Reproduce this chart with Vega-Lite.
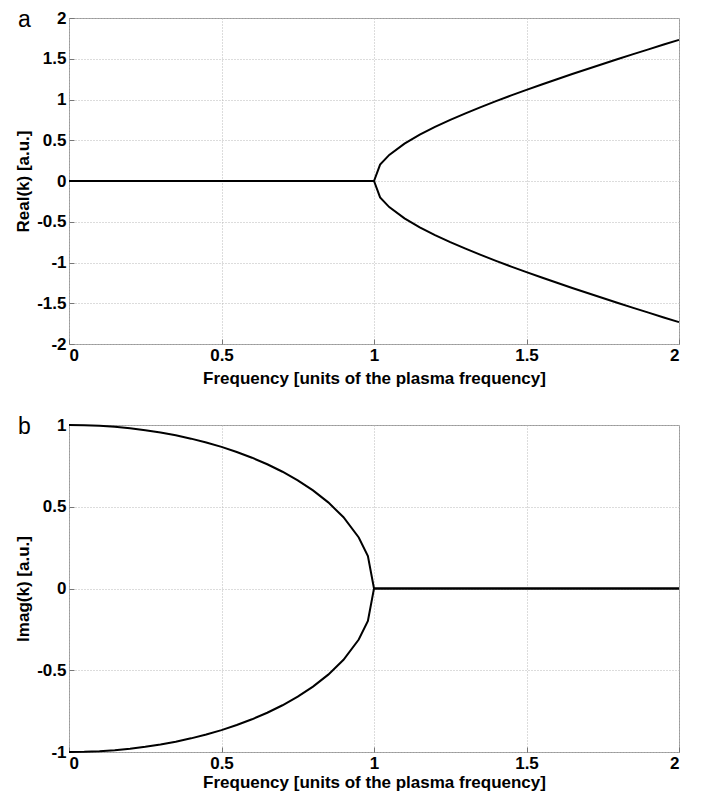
{
  "$schema": "https://vega.github.io/schema/vega-lite/v6.json",
  "padding": {"left": 14, "top": 8, "right": 5, "bottom": 0},
  "background": "white",
  "spacing": 28,
  "config": {
    "font": "Liberation Sans",
    "view": {"stroke": "#9a9a9a", "strokeWidth": 1},
    "axis": {
      "labelFont": "Liberation Sans",
      "labelFontSize": 17,
      "labelFontWeight": "bold",
      "labelColor": "black",
      "titleFont": "Liberation Sans",
      "titleFontSize": 17,
      "titleFontWeight": "bold",
      "titleColor": "black",
      "domain": false,
      "tickColor": "#777",
      "tickSize": -5,
      "grid": true,
      "gridColor": "#b8b8b8",
      "gridDash": [1, 2],
      "gridWidth": 1
    },
    "title": {"font": "Liberation Sans", "fontSize": 23, "fontWeight": "normal", "color": "black"}
  },
  "datasets": {
    "k": [
      {"f": 0, "ru": 0, "rd": 0, "iu": 1, "id": -1},
      {"f": 0.05, "ru": 0, "rd": 0, "iu": 0.9987, "id": -0.9987},
      {"f": 0.1, "ru": 0, "rd": 0, "iu": 0.995, "id": -0.995},
      {"f": 0.15, "ru": 0, "rd": 0, "iu": 0.9887, "id": -0.9887},
      {"f": 0.2, "ru": 0, "rd": 0, "iu": 0.9798, "id": -0.9798},
      {"f": 0.25, "ru": 0, "rd": 0, "iu": 0.9682, "id": -0.9682},
      {"f": 0.3, "ru": 0, "rd": 0, "iu": 0.9539, "id": -0.9539},
      {"f": 0.35, "ru": 0, "rd": 0, "iu": 0.9367, "id": -0.9367},
      {"f": 0.4, "ru": 0, "rd": 0, "iu": 0.9165, "id": -0.9165},
      {"f": 0.45, "ru": 0, "rd": 0, "iu": 0.893, "id": -0.893},
      {"f": 0.5, "ru": 0, "rd": 0, "iu": 0.866, "id": -0.866},
      {"f": 0.55, "ru": 0, "rd": 0, "iu": 0.8352, "id": -0.8352},
      {"f": 0.6, "ru": 0, "rd": 0, "iu": 0.8, "id": -0.8},
      {"f": 0.65, "ru": 0, "rd": 0, "iu": 0.7599, "id": -0.7599},
      {"f": 0.7, "ru": 0, "rd": 0, "iu": 0.7141, "id": -0.7141},
      {"f": 0.75, "ru": 0, "rd": 0, "iu": 0.6614, "id": -0.6614},
      {"f": 0.8, "ru": 0, "rd": 0, "iu": 0.6, "id": -0.6},
      {"f": 0.85, "ru": 0, "rd": 0, "iu": 0.5268, "id": -0.5268},
      {"f": 0.9, "ru": 0, "rd": 0, "iu": 0.4359, "id": -0.4359},
      {"f": 0.95, "ru": 0, "rd": 0, "iu": 0.3122, "id": -0.3122},
      {"f": 0.98, "ru": 0, "rd": 0, "iu": 0.199, "id": -0.199},
      {"f": 1, "ru": 0, "rd": 0, "iu": 0, "id": 0},
      {"f": 1.02, "ru": 0.201, "rd": -0.201, "iu": 0, "id": 0},
      {"f": 1.05, "ru": 0.3202, "rd": -0.3202, "iu": 0, "id": 0},
      {"f": 1.1, "ru": 0.4583, "rd": -0.4583, "iu": 0, "id": 0},
      {"f": 1.15, "ru": 0.5679, "rd": -0.5679, "iu": 0, "id": 0},
      {"f": 1.2, "ru": 0.6633, "rd": -0.6633, "iu": 0, "id": 0},
      {"f": 1.25, "ru": 0.75, "rd": -0.75, "iu": 0, "id": 0},
      {"f": 1.3, "ru": 0.8307, "rd": -0.8307, "iu": 0, "id": 0},
      {"f": 1.35, "ru": 0.9069, "rd": -0.9069, "iu": 0, "id": 0},
      {"f": 1.4, "ru": 0.9798, "rd": -0.9798, "iu": 0, "id": 0},
      {"f": 1.45, "ru": 1.05, "rd": -1.05, "iu": 0, "id": 0},
      {"f": 1.5, "ru": 1.118, "rd": -1.118, "iu": 0, "id": 0},
      {"f": 1.55, "ru": 1.1843, "rd": -1.1843, "iu": 0, "id": 0},
      {"f": 1.6, "ru": 1.249, "rd": -1.249, "iu": 0, "id": 0},
      {"f": 1.65, "ru": 1.3124, "rd": -1.3124, "iu": 0, "id": 0},
      {"f": 1.7, "ru": 1.3748, "rd": -1.3748, "iu": 0, "id": 0},
      {"f": 1.75, "ru": 1.4361, "rd": -1.4361, "iu": 0, "id": 0},
      {"f": 1.8, "ru": 1.4967, "rd": -1.4967, "iu": 0, "id": 0},
      {"f": 1.85, "ru": 1.5564, "rd": -1.5564, "iu": 0, "id": 0},
      {"f": 1.9, "ru": 1.6155, "rd": -1.6155, "iu": 0, "id": 0},
      {"f": 1.95, "ru": 1.6741, "rd": -1.6741, "iu": 0, "id": 0},
      {"f": 2, "ru": 1.7321, "rd": -1.7321, "iu": 0, "id": 0}
    ]
  },
  "vconcat": [
    {
      "width": 610,
      "height": 326,
      "title": {"text": "a", "anchor": "start", "frame": "group", "dx": -51, "dy": 32, "offset": -2, "baseline": "middle", "align": "left"},
      "data": {"name": "k"},
      "transform": [{"fold": ["ru", "rd"], "as": ["branch", "value"]}],
      "mark": {"type": "line", "color": "black", "strokeWidth": 2},
      "encoding": {
        "x": {"field": "f", "type": "quantitative", "scale": {"domain": [0, 2], "nice": false},
          "axis": {"values": [0, 0.5, 1, 1.5, 2], "format": "~g", "title": "Frequency [units of the plasma frequency]", "labelPadding": 8, "titlePadding": 7}},
        "y": {"field": "value", "type": "quantitative", "scale": {"domain": [-2, 2], "nice": false},
          "axis": {"values": [-2, -1.5, -1, -0.5, 0, 0.5, 1, 1.5, 2], "format": "~g", "labelExpr": "replace(datum.label, '\u2212', '-')", "title": "Real(k) [a.u.]", "labelPadding": 8, "titlePadding": 4}},
        "detail": {"field": "branch"}
      }
    },
    {
      "width": 610,
      "height": 327,
      "title": {"text": "b", "anchor": "start", "frame": "group", "dx": -51, "dy": 32, "offset": -2, "baseline": "middle", "align": "left"},
      "data": {"name": "k"},
      "transform": [{"fold": ["iu", "id"], "as": ["branch", "value"]}],
      "mark": {"type": "line", "color": "black", "strokeWidth": 2},
      "encoding": {
        "x": {"field": "f", "type": "quantitative", "scale": {"domain": [0, 2], "nice": false},
          "axis": {"values": [0, 0.5, 1, 1.5, 2], "format": "~g", "title": "Frequency [units of the plasma frequency]", "labelPadding": 8, "titlePadding": 3}},
        "y": {"field": "value", "type": "quantitative", "scale": {"domain": [-1, 1], "nice": false},
          "axis": {"values": [-1, -0.5, 0, 0.5, 1], "format": "~g", "labelExpr": "replace(datum.label, '\u2212', '-')", "title": "Imag(k) [a.u.]", "labelPadding": 8, "titlePadding": 4}},
        "detail": {"field": "branch"}
      }
    }
  ]
}
